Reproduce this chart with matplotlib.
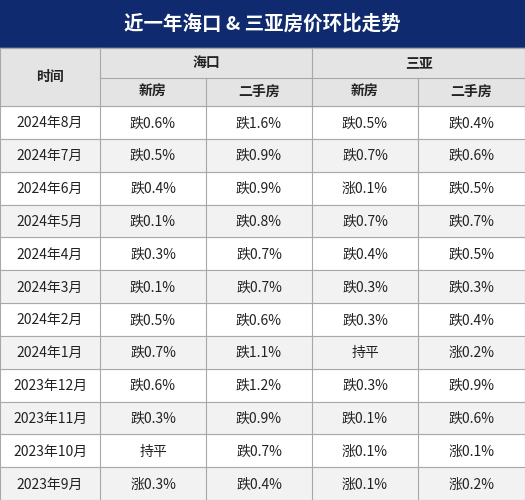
import matplotlib
matplotlib.use("Agg")
import matplotlib.pyplot as plt
from matplotlib.patches import Rectangle

plt.rcParams['font.family'] = ['Noto Sans CJK SC', 'DejaVu Sans']

title = "近一年海口 & 三亚房价环比走势"
cities = ["海口", "三亚"]
subheads = ["新房", "二手房", "新房", "二手房"]
months = ["2024年8月", "2024年7月", "2024年6月", "2024年5月", "2024年4月", "2024年3月",
          "2024年2月", "2024年1月", "2023年12月", "2023年11月", "2023年10月", "2023年9月"]
haikou_new = ["跌0.6%", "跌0.5%", "跌0.4%", "跌0.1%", "跌0.3%", "跌0.1%",
              "跌0.5%", "跌0.7%", "跌0.6%", "跌0.3%", "持平", "涨0.3%"]
haikou_second = ["跌1.6%", "跌0.9%", "跌0.9%", "跌0.8%", "跌0.7%", "跌0.7%",
                 "跌0.6%", "跌1.1%", "跌1.2%", "跌0.9%", "跌0.7%", "跌0.4%"]
sanya_new = ["跌0.5%", "跌0.7%", "涨0.1%", "跌0.7%", "跌0.4%", "跌0.3%",
             "跌0.3%", "持平", "跌0.3%", "跌0.1%", "涨0.1%", "涨0.1%"]
sanya_second = ["跌0.4%", "跌0.6%", "跌0.5%", "跌0.7%", "跌0.5%", "跌0.3%",
                "跌0.4%", "涨0.2%", "跌0.9%", "跌0.6%", "涨0.1%", "涨0.2%"]

W, H = 525, 500
xs = [0, 100, 206, 312, 418, 525]
title_h, h1, h2 = 48, 78, 106
rh = (H - h2) / len(months)
navy = "#0f2a6e"
hdr = "#e4e4e4"
alt = "#f2f2f2"
lc = "#a8a8a8"

fig = plt.figure(figsize=(5.25, 5), dpi=100)
ax = fig.add_axes([0, 0, 1, 1])
ax.set_xlim(0, W); ax.set_ylim(H, 0); ax.axis("off")

ax.add_patch(Rectangle((0, 0), W, title_h, color=navy))
ax.text(W / 2, title_h / 2, title, color="white", fontsize=14, fontweight="bold",
        ha="center", va="center")
ax.add_patch(Rectangle((0, title_h), W, h2 - title_h, color=hdr))

ax.text(xs[0] + (xs[1] - xs[0]) / 2, (title_h + h2) / 2, "时间", fontsize=10,
        fontweight="bold", ha="center", va="center", color="#222")
for i, c in enumerate(cities):
    x0, x1 = xs[1 + 2 * i], xs[3 + 2 * i]
    ax.text((x0 + x1) / 2, (title_h + h1) / 2, c, fontsize=10, fontweight="bold",
            ha="center", va="center", color="#222")
for j, s in enumerate(subheads):
    ax.text((xs[j + 1] + xs[j + 2]) / 2, (h1 + h2) / 2, s, fontsize=10, fontweight="bold",
            ha="center", va="center", color="#222")

cols = [months, haikou_new, haikou_second, sanya_new, sanya_second]
for r in range(len(months)):
    y0 = h2 + r * rh
    if r % 2 == 1:
        ax.add_patch(Rectangle((0, y0), W, rh, color=alt))
    for ci, col in enumerate(cols):
        ax.text((xs[ci] + xs[ci + 1]) / 2, y0 + rh / 2 + 1, col[r], fontsize=10,
                ha="center", va="center", color="#222")

ax.plot([0, W], [title_h, title_h], color=lc, lw=0.8)
ax.plot([xs[1], W], [h1, h1], color=lc, lw=0.8)
for r in range(len(months) + 1):
    y = h2 + r * rh
    ax.plot([0, W], [y, y], color=lc, lw=0.8)
for k, x in enumerate(xs):
    top = title_h if k in (0, 1, 3, 5) else h1
    ax.plot([x, x], [top, H], color=lc, lw=0.8)

fig.savefig("out.png", dpi=100)
